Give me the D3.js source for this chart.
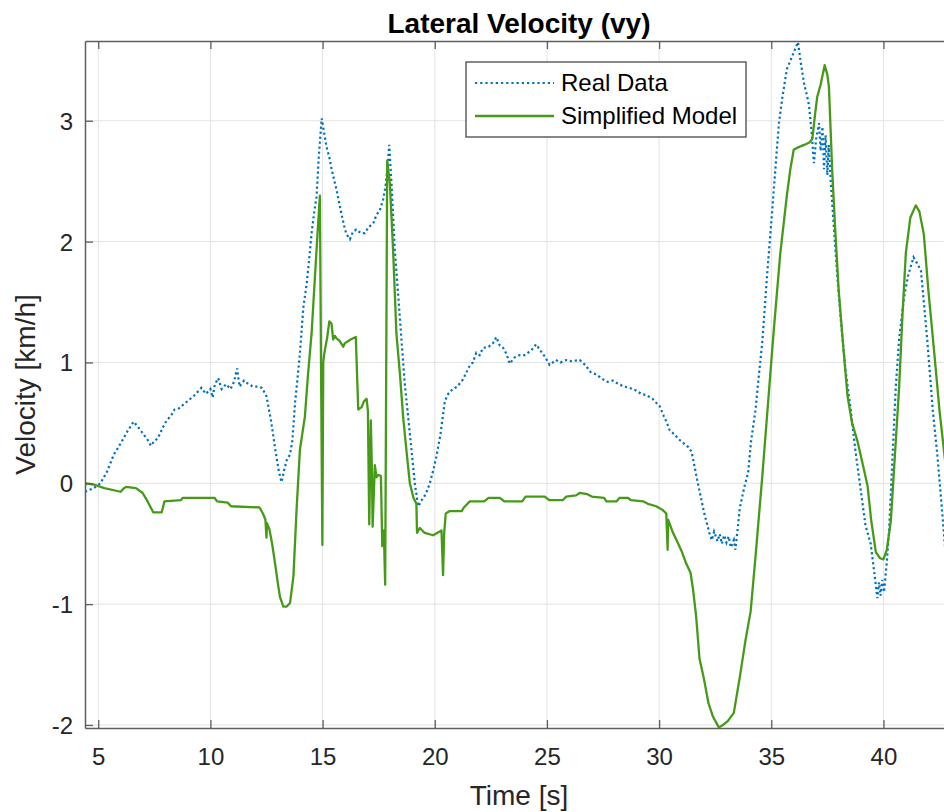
<!DOCTYPE html>
<html>
<head>
<meta charset="utf-8">
<title>Lateral Velocity (vy)</title>
<style>
body { margin: 0; background: #fff; }
svg { display: block; overflow: hidden; }
text { font-family: "Liberation Sans", Arial, Helvetica, sans-serif; fill: #262626; }
.title { font-weight: bold; font-size: 28px; fill: #000; }
.ticklab { font-size: 24px; }
.axlab { font-size: 28px; }
.legtext { font-size: 24px; fill: #000; }
.grid line { stroke: #e3e3e3; stroke-width: 1; }
</style>
</head>
<body>
<svg width="944" height="812"></svg>
<script src="https://d3js.org/d3.v7.min.js"></script>
<script>

// time [s] and velocity [km/h]
var realT = [4.41, 4.8, 5.1, 5.4, 5.7, 6.0, 6.3, 6.58, 6.8, 7.0,
  7.2, 7.35, 7.5, 7.65, 7.85, 8.05, 8.25, 8.4, 8.6, 8.85,
  9.05, 9.3, 9.5, 9.6, 9.8, 10.0, 10.1, 10.2, 10.35, 10.5,
  10.7, 10.9, 11.05, 11.19, 11.3, 11.5, 11.7, 11.9, 12.1, 12.3,
  12.5, 12.7, 12.9, 13.05, 13.17, 13.3, 13.4, 13.55, 13.65, 13.77,
  13.9, 14.0, 14.14, 14.29, 14.4, 14.51, 14.63, 14.73, 14.83, 14.96,
  15.05, 15.18, 15.3, 15.4, 15.62, 15.85, 16.0, 16.07, 16.22, 16.35,
  16.5, 16.7, 16.88, 17.05, 17.26, 17.4, 17.55, 17.7, 17.8, 17.9,
  17.97, 18.07, 18.22, 18.44, 18.66, 18.89, 19.11, 19.26, 19.45, 19.6,
  19.78, 19.95, 20.07, 20.25, 20.45, 20.6, 20.8, 21.0, 21.26, 21.55,
  21.7, 21.85, 22.0, 22.15, 22.4, 22.6, 22.74, 22.9, 23.05, 23.2,
  23.34, 23.55, 23.78, 24.0, 24.3, 24.52, 24.7, 24.9, 25.12, 25.4,
  25.6, 25.86, 26.1, 26.46, 26.7, 26.95, 27.2, 27.5, 27.7, 27.94,
  28.2, 28.45, 28.68, 28.95, 29.2, 29.43, 29.7, 29.85, 30.02, 30.2,
  30.35, 30.47, 30.7, 30.91, 31.1, 31.3, 31.45, 31.6, 31.75, 31.9,
  32.0, 32.24, 32.35, 32.45, 32.6, 32.7, 32.8, 32.9, 33.0, 33.1,
  33.2, 33.33, 33.4, 33.5, 33.6, 33.8, 33.97, 34.1, 34.3, 34.45,
  34.6, 34.8, 35.05, 35.34, 35.5, 35.7, 35.9, 36.19, 36.3, 36.46,
  36.6, 36.68, 36.8, 36.9, 37.0, 37.13, 37.2, 37.28, 37.35, 37.42,
  37.5, 37.56, 37.65, 37.8, 37.95, 38.1, 38.3, 38.54, 38.75, 38.99,
  39.2, 39.43, 39.6, 39.68, 39.73, 39.8, 39.87, 39.95, 40.03, 40.1,
  40.15, 40.25, 40.4, 40.55, 40.7, 40.92, 41.1, 41.34, 41.5, 41.67,
  41.8, 41.96, 42.2, 42.4, 42.6, 42.75, 43.0];
var realV = [-0.07, -0.04, 0.0, 0.1, 0.24, 0.33, 0.43, 0.51, 0.46, 0.41,
  0.36, 0.31, 0.35, 0.37, 0.45, 0.52, 0.56, 0.61, 0.62, 0.66,
  0.69, 0.73, 0.77, 0.79, 0.74, 0.78, 0.71, 0.82, 0.87, 0.78,
  0.82, 0.78, 0.84, 0.95, 0.8, 0.85, 0.82, 0.8, 0.8, 0.79,
  0.72, 0.52, 0.27, 0.1, 0.01, 0.12, 0.19, 0.24, 0.35, 0.66,
  0.9, 1.1, 1.45, 1.65, 1.85, 2.07, 2.25, 2.37, 2.7, 3.02,
  2.92, 2.78, 2.7, 2.6, 2.43, 2.22, 2.1, 2.06, 2.02, 2.08,
  2.1, 2.07, 2.07, 2.12, 2.15, 2.22, 2.26, 2.35, 2.45, 2.62,
  2.8, 2.48, 1.93, 1.38, 0.83, 0.41, 0.0, -0.19, -0.13, -0.09,
  0.0, 0.12, 0.22, 0.4, 0.68, 0.74, 0.78, 0.8, 0.86, 0.97,
  1.0, 1.08, 1.06, 1.12, 1.13, 1.16, 1.21, 1.14, 1.12, 1.07,
  0.99, 1.04, 1.06, 1.06, 1.1, 1.15, 1.1, 1.05, 0.98, 1.02,
  1.0, 1.02, 1.01, 1.02, 0.98, 0.92, 0.9, 0.86, 0.84, 0.85,
  0.82, 0.8, 0.79, 0.77, 0.74, 0.73, 0.7, 0.67, 0.64, 0.56,
  0.5, 0.44, 0.4, 0.36, 0.33, 0.3, 0.26, 0.12, -0.02, -0.15,
  -0.24, -0.41, -0.47, -0.4, -0.48, -0.42, -0.5, -0.43, -0.49, -0.44,
  -0.53, -0.47, -0.55, -0.38, -0.2, -0.03, 0.09, 0.35, 0.61, 0.9,
  1.17, 1.69, 2.28, 2.98, 3.2, 3.43, 3.52, 3.65, 3.5, 3.31,
  3.2, 3.13, 2.9, 2.65, 2.85, 2.98, 2.75, 2.95, 2.6, 2.88,
  2.55, 2.8, 2.5, 2.09, 1.7, 1.35, 0.95, 0.61, 0.27, -0.06,
  -0.35, -0.5, -0.75, -0.88, -0.95, -0.82, -0.93, -0.8, -0.9, -0.75,
  -0.65, -0.39, 0.2, 0.8, 1.2, 1.54, 1.72, 1.87, 1.82, 1.76,
  1.5, 1.17, 0.6, 0.24, -0.2, -0.54, -0.9];

var modelT = [4.41, 4.45, 4.8, 5.27, 6.0, 6.15, 6.24, 6.68, 6.98, 7.2, 7.45, 7.83, 7.95, 8.69, 8.76, 9.58, 10.18, 10.3, 10.77, 10.92,
  12.19, 12.34, 12.45, 12.5, 12.52, 12.63, 12.75, 12.88, 13.0, 13.1, 13.25, 13.4, 13.55, 13.7, 13.84, 13.99, 14.21, 14.35, 14.51, 14.73,
  14.88, 14.93, 14.99, 15.03, 15.06, 15.1, 15.2, 15.3, 15.4, 15.47, 15.55, 15.62, 15.75, 15.92, 16.0, 16.25, 16.48, 16.59, 16.74, 16.85,
  16.96, 17.02, 17.08, 17.15, 17.2, 17.23, 17.33, 17.4, 17.48, 17.6, 17.66, 17.73, 17.79, 17.88, 18.0, 18.15, 18.29, 18.45, 18.59, 18.75,
  18.89, 19.05, 19.18, 19.21, 19.33, 19.55, 19.93, 20.3, 20.37, 20.42, 20.49, 20.67, 21.2, 21.3, 21.56, 22.2, 22.4, 22.9, 23.1, 23.9,
  24.05, 24.9, 25.1, 25.7, 25.86, 26.3, 26.46, 26.8, 27.0, 27.55, 27.65, 28.1, 28.24, 28.6, 28.75, 29.3, 29.5, 29.87, 30.15, 30.32,
  30.38, 30.4, 30.62, 30.8, 31.0, 31.2, 31.4, 31.5, 31.65, 31.8, 32.0, 32.2, 32.4, 32.66, 32.85, 33.05, 33.33, 33.6, 33.85, 34.08,
  34.3, 34.6, 34.85, 35.1, 35.4, 35.7, 35.85, 36.0, 36.2, 36.46, 36.7, 36.83, 36.95, 37.05, 37.2, 37.38, 37.5, 37.57, 37.65, 37.72,
  37.85, 38.0, 38.2, 38.4, 38.6, 38.84, 39.05, 39.29, 39.45, 39.66, 39.85, 40.0, 40.15, 40.33, 40.5, 40.7, 40.85, 41.0, 41.2, 41.44,
  41.6, 41.8, 42.0, 42.26, 42.5, 42.74, 43.0];
var modelV = [-0.02, 0.0, -0.01, -0.04, -0.07, -0.04, -0.03, -0.04, -0.08, -0.15, -0.24, -0.24, -0.15, -0.14, -0.12, -0.12, -0.12, -0.15, -0.16, -0.19,
  -0.2, -0.25, -0.3, -0.45, -0.33, -0.38, -0.5, -0.66, -0.82, -0.94, -1.02, -1.02, -0.99, -0.77, -0.22, 0.28, 0.55, 0.9, 1.24, 1.93,
  2.38, 1.0, -0.51, 1.0, 1.05, 1.1, 1.2, 1.34, 1.32, 1.19, 1.22, 1.2, 1.18, 1.13, 1.16, 1.19, 1.21, 0.61, 0.63, 0.68,
  0.7, 0.6, -0.34, 0.52, 0.1, -0.36, 0.15, 0.05, 0.07, 0.06, -0.52, -0.39, -0.84, 2.67, 2.48, 1.9, 1.24, 0.9, 0.55, 0.25,
  0.0, -0.12, -0.17, -0.41, -0.37, -0.41, -0.43, -0.39, -0.76, -0.41, -0.25, -0.23, -0.23, -0.2, -0.15, -0.15, -0.12, -0.12, -0.15, -0.15,
  -0.11, -0.11, -0.14, -0.14, -0.11, -0.1, -0.08, -0.09, -0.11, -0.12, -0.15, -0.15, -0.12, -0.12, -0.14, -0.15, -0.17, -0.19, -0.22, -0.25,
  -0.55, -0.3, -0.41, -0.48, -0.56, -0.66, -0.74, -0.86, -1.1, -1.45, -1.62, -1.82, -1.93, -2.02, -2.0, -1.97, -1.9, -1.6, -1.3, -1.06,
  -0.6, 0.06, 0.65, 1.24, 1.9, 2.39, 2.6, 2.76, 2.78, 2.8, 2.82, 2.85, 3.05, 3.2, 3.3, 3.46, 3.38, 3.28, 2.9, 2.57,
  2.1, 1.61, 1.15, 0.72, 0.5, 0.35, 0.18, -0.02, -0.3, -0.57, -0.62, -0.63, -0.55, -0.31, 0.2, 0.8, 1.4, 1.91, 2.2, 2.3,
  2.25, 2.06, 1.6, 1.09, 0.6, 0.2, -0.2];

var xTicks = [5, 10, 15, 20, 25, 30, 35, 40];
var yTicks = [-2, -1, 0, 1, 2, 3];
var seriesNames = ["Real Data", "Simplified Model"];

var svg = d3.select("svg"),
    pLeft = 85, pTop = 41, pRight = 953, pBottom = 728;

var x = d3.scaleLinear().domain([4.41, 43.1]).range([pLeft, pRight]);
var y = d3.scaleLinear().domain([-2.025, 3.66]).range([pBottom, pTop]);

svg.append("defs").append("clipPath").attr("id", "clip")
  .append("rect").attr("x", pLeft).attr("y", pTop).attr("width", pRight - pLeft).attr("height", pBottom - pTop);

// grid
var grid = svg.append("g").attr("class", "grid");
grid.selectAll(".gx").data(xTicks).enter().append("line")
  .attr("x1", d => x(d)).attr("x2", d => x(d)).attr("y1", pTop).attr("y2", pBottom);
grid.selectAll(".gy").data(yTicks).enter().append("line")
  .attr("x1", pLeft).attr("x2", pRight).attr("y1", d => y(d)).attr("y2", d => y(d));

// lines
var line = d3.line().x(d => x(d[0])).y(d => y(d[1]));
var realData = realT.map((t, i) => [t, realV[i]]);
var modelData = modelT.map((t, i) => [t, modelV[i]]);

var plot = svg.append("g").attr("clip-path", "url(#clip)");
plot.append("path").datum(realData)
  .attr("d", line).attr("fill", "none")
  .attr("stroke", "#0072BD").attr("stroke-width", 2.2)
  .attr("stroke-dasharray", "2.2,2.8");
plot.append("path").datum(modelData)
  .attr("d", line).attr("fill", "none")
  .attr("stroke", "#459a18").attr("stroke-width", 2.3)
  .attr("stroke-linejoin", "round");

// axes, matlab style: ticks inside
var axisCol = "#5e5e5e";
var xb = svg.append("g").attr("transform", "translate(0," + pBottom + ")")
  .call(d3.axisBottom(x).tickValues(xTicks).tickSizeInner(-8).tickSizeOuter(0));
var xt = svg.append("g").attr("transform", "translate(0," + pTop + ")")
  .call(d3.axisTop(x).tickValues(xTicks).tickSizeInner(-8).tickSizeOuter(0).tickFormat(""));
var yl = svg.append("g").attr("transform", "translate(" + pLeft + ",0)")
  .call(d3.axisLeft(y).tickValues(yTicks).tickSizeInner(-8).tickSizeOuter(0).tickFormat(d => String(d)));

[xb, xt, yl].forEach(function(a) {
  a.select(".domain").attr("stroke", axisCol).attr("stroke-width", 1.5);
  a.selectAll(".tick line").attr("stroke", axisCol).attr("stroke-width", 1.3);
  a.selectAll(".tick text").attr("class", "ticklab").attr("font-family", null).attr("font-size", null).attr("fill", "#262626");
});
xb.selectAll(".tick text").attr("y", 20).attr("dy", "0.71em");
yl.selectAll(".tick text").attr("x", -12).attr("dy", "0.35em");

// labels
svg.append("text").attr("class", "title")
  .attr("x", (pLeft + pRight) / 2).attr("y", 33).attr("text-anchor", "middle")
  .text("Lateral Velocity (vy)");
svg.append("text").attr("class", "axlab")
  .attr("x", (pLeft + pRight) / 2).attr("y", 805).attr("text-anchor", "middle")
  .text("Time [s]");
svg.append("text").attr("class", "axlab")
  .attr("transform", "translate(35," + ((pTop + pBottom) / 2) + ") rotate(-90)")
  .attr("text-anchor", "middle")
  .text("Velocity [km/h]");

// legend
var lg = svg.append("g").attr("transform", "translate(466,62)");
lg.append("rect").attr("width", 280).attr("height", 75)
  .attr("fill", "#fff").attr("stroke", "#3a3a3a").attr("stroke-width", 1.2);
var rows = lg.selectAll(".row").data(seriesNames).enter().append("g")
  .attr("transform", (d, i) => "translate(0," + (21 + i * 33) + ")");
rows.append("line").attr("x1", 9).attr("x2", 88).attr("y1", 0).attr("y2", 0)
  .attr("stroke", (d, i) => i === 0 ? "#0072BD" : "#459a18")
  .attr("stroke-width", (d, i) => i === 0 ? 2.2 : 2.6)
  .attr("stroke-dasharray", (d, i) => i === 0 ? "2.2,3" : null);
rows.append("text").attr("class", "legtext").attr("x", 95).attr("dy", "0.35em").text(d => d);

</script>
</body>
</html>
